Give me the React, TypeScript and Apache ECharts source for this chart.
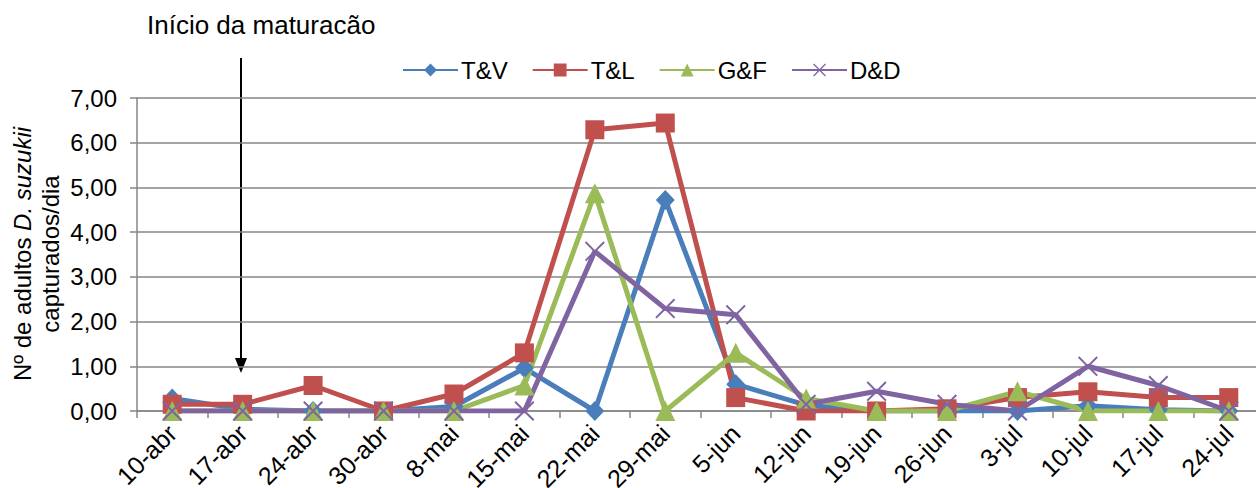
import React, { useEffect, useRef } from "react";
import * as echarts from "echarts";

const categories = ["10-abr", "17-abr", "24-abr", "30-abr", "8-mai", "15-mai", "22-mai", "29-mai", "5-jun", "12-jun", "19-jun", "26-jun", "3-jul", "10-jul", "17-jul", "24-jul"];
const tvValues = [0.28, 0.04, 0, 0, 0.1, 0.96, 0, 4.72, 0.6, 0.13, 0, 0, 0, 0.12, 0.03, 0];
const tlValues = [0.15, 0.15, 0.57, 0, 0.38, 1.3, 6.29, 6.44, 0.3, 0, 0, 0.05, 0.3, 0.43, 0.3, 0.3];
const gfValues = [0, 0, 0, 0, 0, 0.57, 4.87, 0, 1.3, 0.28, 0, 0, 0.44, 0, 0, 0];
const ddValues = [0, 0, 0, 0, 0, 0, 3.57, 2.29, 2.15, 0.15, 0.44, 0.15, 0, 1.0, 0.57, 0];
const seriesNames = ["T&V", "T&L", "G&F", "D&D"];
const yTicks = { min: 0, max: 7, interval: 1 };

const FONT = "'Liberation Sans', Arial, sans-serif";
const X_SYMBOL = "path://M0,0.7 L0.7,0 L5,4.3 L9.3,0 L10,0.7 L5.7,5 L10,9.3 L9.3,10 L5,5.7 L0.7,10 L0,9.3 L4.3,5 Z";

export default function App() {
  const ref = useRef<HTMLDivElement>(null);
  useEffect(() => {
    if (!ref.current) return;
    const chart = echarts.init(ref.current, null, { renderer: "svg" });
    const mk = (name: string, data: number[], color: string, symbol: string, size: number | number[]) => ({
      name,
      type: "line",
      data,
      symbol,
      symbolSize: size,
      showAllSymbol: true,
      lineStyle: { color, width: 5 },
      itemStyle: { color },
      emphasis: { disabled: true },
    });
    chart.setOption({
      animation: false,
      textStyle: { fontFamily: FONT },
      grid: { left: 137, right: 6, top: 98, bottom: 77, containLabel: false, outerBoundsMode: "none" },
      legend: {
        left: 402,
        top: 58,
        itemWidth: 55,
        itemHeight: 16,
        itemGap: 24,
        padding: 0,
        textStyle: { fontSize: 24, color: "#000", fontFamily: FONT, padding: [0, 0, 0, -2] },
        data: seriesNames,
      },
      xAxis: {
        type: "category",
        data: categories,
        boundaryGap: true,
        axisLine: { lineStyle: { color: "#868686", width: 1.5 } },
        axisTick: { show: true, length: 7, lineStyle: { color: "#868686", width: 1.5 } },
        axisLabel: { rotate: 45, fontSize: 25, color: "#000", margin: 18, fontFamily: FONT, interval: 0 },
        splitLine: { show: false },
      },
      yAxis: {
        type: "value",
        min: yTicks.min,
        max: yTicks.max,
        interval: yTicks.interval,
        axisLine: { show: true, lineStyle: { color: "#868686", width: 1.5 } },
        axisTick: { show: true, length: 7, lineStyle: { color: "#868686", width: 1.5 } },
        axisLabel: {
          fontSize: 24,
          color: "#000",
          margin: 20,
          fontFamily: FONT,
          formatter: (v: number) => v.toFixed(2).replace(".", ","),
        },
        splitLine: { show: true, lineStyle: { color: "#868686", width: 1.5 } },
      },
      graphic: [
        {
          type: "text",
          left: 147,
          top: 12,
          style: { text: "Início da maturacão", font: `26px ${FONT}`, fill: "#000" },
        },
        {
          type: "line",
          shape: { x1: 241, y1: 58, x2: 241, y2: 360 },
          style: { stroke: "#000", lineWidth: 2 },
        },
        {
          type: "polygon",
          shape: { points: [[235, 358], [247, 358], [241, 373]] },
          style: { fill: "#000" },
        },
        {
          type: "text",
          x: 36,
          y: 254,
          rotation: Math.PI / 2,
          style: {
            text: "{a|Nº de adultos }{i|D. suzukii}\n{a|capturados/dia}",
            align: "center",
            verticalAlign: "middle",
            fill: "#000",
            rich: {
              a: { fontSize: 24, fontFamily: FONT, lineHeight: 28, fill: "#000" },
              i: { fontSize: 24, fontFamily: FONT, fontStyle: "italic", lineHeight: 28, fill: "#000" },
            },
          },
        },
      ],
      series: [
        mk("T&V", tvValues, "#4A7EBB", "diamond", [19, 20]),
        mk("T&L", tlValues, "#C0504D", "rect", 19),
        mk("G&F", gfValues, "#9BBB59", "triangle", [20, 20]),
        mk("D&D", ddValues, "#8064A2", X_SYMBOL, 20),
      ],
    });
    return () => chart.dispose();
  }, []);
  return (
    <div style={{ position: "fixed", left: 0, top: 0, width: 1256, height: 488, overflow: "hidden", background: "#fff" }}>
      <div ref={ref} style={{ width: 1270, height: 488 }} />
    </div>
  );
}
